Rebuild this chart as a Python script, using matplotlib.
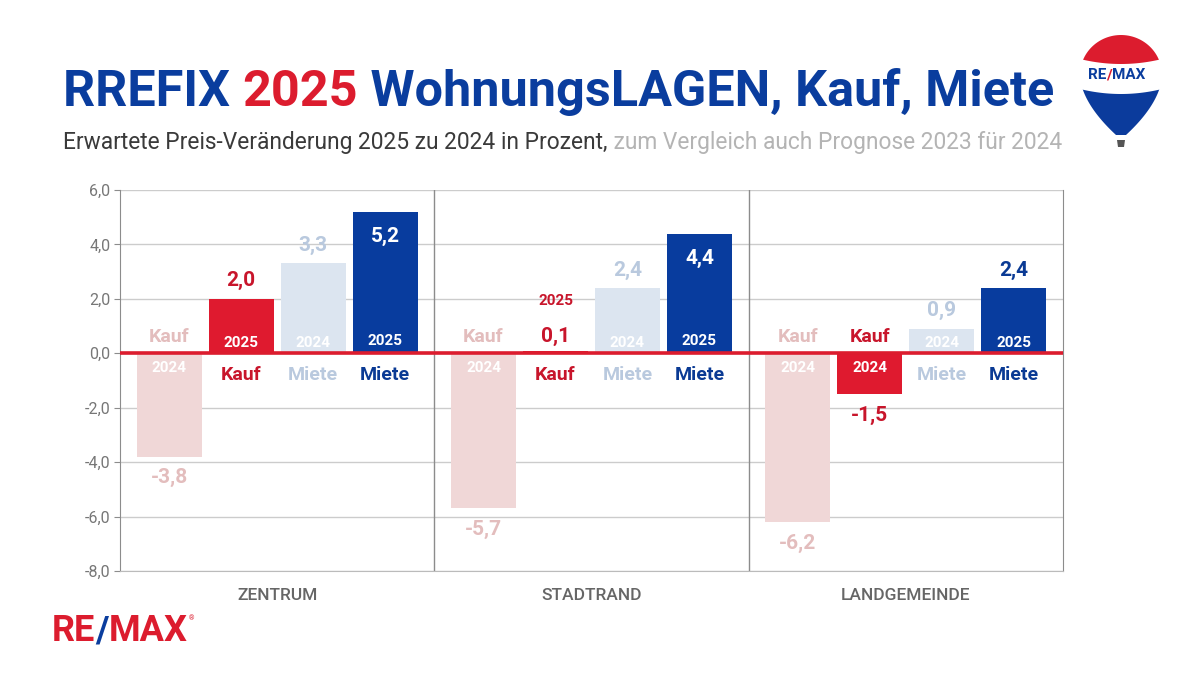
import matplotlib
matplotlib.use('Agg')
import matplotlib.pyplot as plt
import numpy as np
from matplotlib.patches import Polygon

plt.rcParams['font.family'] = ['Roboto', 'DejaVu Sans']

# Daten
groups = ['ZENTRUM', 'STADTRAND', 'LANDGEMEINDE']
series_names = ['Kauf', 'Kauf', 'Miete', 'Miete']
kauf_2024 = [-3.8, -5.7, -6.2]
kauf_2025 = [2.0, 0.1, -1.5]
miete_2024 = [3.3, 2.4, 0.9]
miete_2025 = [5.2, 4.4, 2.4]
year_labels = [['2024', '2025', '2024', '2025'],
               ['2024', '2025', '2024', '2025'],
               ['2024', '2024', '2024', '2025']]
yticks = [-8, -6, -4, -2, 0, 2, 4, 6]

bar_colors = ['#f0d7d7', '#df1a2f', '#dce5f0', '#083c9e']
text_colors = ['#e3bdbd', '#c8152b', '#b9c9de', '#0a3a94']
RED = '#dc1c2e'
BLUE = '#0a3d9e'

fig = plt.figure(figsize=(12.03, 6.77), dpi=100)
fig.patch.set_facecolor('white')

# overlay in pixel coords for title / logos
ov = fig.add_axes([0, 0, 1, 1], zorder=0)
ov.set_xlim(0, 1203)
ov.set_ylim(677, 0)
ov.axis('off')

ax = fig.add_axes([120/1203, 106/677, 943/1203, 381/677], zorder=1)
ax.set_facecolor('none')

series = [kauf_2024, kauf_2025, miete_2024, miete_2025]
width = 0.207
step = 0.229
xc = np.arange(len(groups)) + 0.5


def lab(xv, yv, dy, s, color, size):
    ax.annotate(s, (xv, yv), xytext=(0, dy), textcoords='offset pixels',
                ha='center', va='center', color=color, fontsize=size,
                fontweight='bold', zorder=6)


def fmt(v):
    return f'{v:.1f}'.replace('.', ',')


VAL, NAME, YEAR = 15, 14, 11
for i, vals in enumerate(series):
    xs = xc + (i - 1.5) * step
    ax.bar(xs, vals, width, color=bar_colors[i], zorder=2)
    for j, v in enumerate(vals):
        xx = xs[j]
        yr = year_labels[j][i]
        if v >= 0:
            lab(xx, 0, -22, series_names[i], text_colors[i], NAME)
            if v >= 4:
                lab(xx, v, -25, fmt(v), 'white', VAL)
                lab(xx, 0, 12, yr, 'white', YEAR)
            elif v >= 0.5:
                lab(xx, v, 18, fmt(v), text_colors[i], VAL)
                lab(xx, 0, 10, yr, 'white', YEAR)
            else:
                lab(xx, v, 14, fmt(v), text_colors[i], VAL)
                lab(xx, v, 50, yr, text_colors[i], YEAR)
        else:
            lab(xx, 0, 16, series_names[i], text_colors[i], NAME)
            lab(xx, 0, -15, yr, 'white', YEAR)
            lab(xx, v, -21, fmt(v), text_colors[i], VAL)

ax.axhline(0, color=RED, lw=2.6, zorder=4)
for xv in [1, 2]:
    ax.axvline(xv, color='#8c8c8c', lw=1, zorder=1)

ax.set_xlim(0, 3)
ax.set_ylim(-8, 6)
ax.set_yticks(yticks)
ax.set_yticklabels([fmt(t) for t in yticks])
ax.yaxis.grid(True, color='#cccccc', lw=1)
ax.set_axisbelow(True)
ax.tick_params(axis='y', length=4, color='#8c8c8c', labelcolor='#777777',
               labelsize=11.5, pad=3)
ax.set_xticks(xc)
ax.set_xticklabels(groups, fontweight='medium')
ax.tick_params(axis='x', length=0, labelcolor='#666666', labelsize=12.5, pad=12)
ax.spines['top'].set_visible(False)
ax.spines['bottom'].set_color('#bbbbbb')
for sp in ['left', 'right']:
    ax.spines[sp].set_color('#8c8c8c')

renderer = fig.canvas.get_renderer()


def text_width(s, **kw):
    t = ov.text(0, 0, s + '|', **kw)
    w1 = t.get_window_extent(renderer).width
    t.remove()
    t = ov.text(0, 0, '|', **kw)
    w2 = t.get_window_extent(renderer).width
    t.remove()
    return w1 - w2


def colored_text(x, y, parts, **kw):
    for s, c in parts:
        ov.text(x, y, s, color=c, va='center', ha='left', **kw)
        x += text_width(s, **kw)
    return x


# Titel
colored_text(63, 92, [('RREFIX ', BLUE), ('2025', RED),
                      (' WohnungsLAGEN, Kauf, Miete', BLUE)],
             fontsize=36.3, fontweight='bold')
colored_text(63, 143, [('Erwartete Preis-Veränderung 2025 zu 2024 in Prozent,', '#3a3a3a'),
                       (' zum Vergleich auch Prognose 2023 für 2024', '#b4b4b4')],
             fontsize=16.4)

# RE/MAX logo unten links
xe = colored_text(52, 631, [('RE', RED), ('/', BLUE), ('MAX', RED)],
                  fontsize=26, fontweight='bold')
ov.text(xe + 1, 619, '®', color=RED, fontsize=5, va='center')

# Ballon oben rechts
cx = 1121
t = np.linspace(0, np.pi, 60)
upper = np.column_stack([cx + 41 * np.cos(t), 75 - 40 * np.sin(t)])
s = np.linspace(0, 1, 40)
hw = 5 + 36 * (1 - s ** 1.8)
ys = 75 + 60 * s
left = np.column_stack([cx - hw, ys])
right = np.column_stack([cx + hw, ys])[::-1]
outline = np.vstack([upper, left, right])
balloon = Polygon(outline, closed=True, facecolor='white', edgecolor='none')
ov.add_patch(balloon)
dx = np.linspace(-45, 45, 40)
red_part = Polygon(np.vstack([np.column_stack([dx, 58 + 6 * (1 - (dx / 45) ** 2)]) + [cx, 0],
                              [[cx + 45, 20], [cx - 45, 20]]]),
                   closed=True, facecolor=RED, edgecolor='none')
blue_part = Polygon(np.vstack([np.column_stack([dx, 88 + 6 * (1 - (dx / 45) ** 2)]) + [cx, 0],
                               [[cx + 45, 150], [cx - 45, 150]]]),
                    closed=True, facecolor='#0b3b9c', edgecolor='none')
for p in [red_part, blue_part]:
    ov.add_patch(p)
    p.set_clip_path(balloon)
ov.add_patch(Polygon([[cx - 4, 140], [cx + 4, 140], [cx + 3, 147], [cx - 3, 147]],
                     closed=True, facecolor='#555555', edgecolor='none'))
colored_text(cx - 33, 75, [('RE', BLUE), ('/', RED), ('MAX', BLUE)],
             fontsize=11, fontweight='bold')

fig.savefig('out.png', dpi=100)
